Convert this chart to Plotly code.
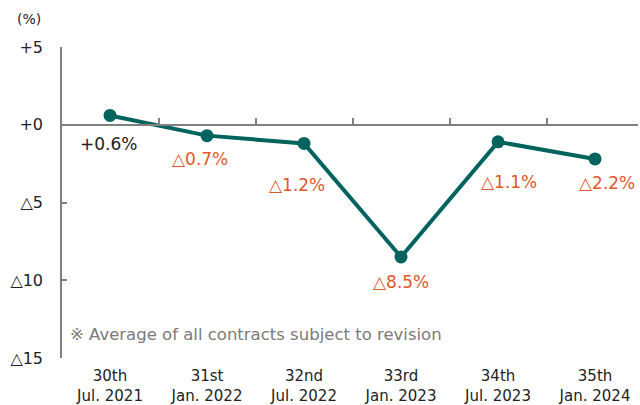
import plotly.graph_objects as go

categories = ["30th<br>Jul. 2021", "31st<br>Jan. 2022", "32nd<br>Jul. 2022",
              "33rd<br>Jan. 2023", "34th<br>Jul. 2023", "35th<br>Jan. 2024"]
values = [0.6, -0.7, -1.2, -8.5, -1.1, -2.2]
value_labels = ["+0.6%", "△0.7%", "△1.2%", "△8.5%", "△1.1%", "△2.2%"]
ytick_vals = [5, 0, -5, -10, -15]
ytick_text = ["+5", "+0", "△5", "△10", "△15"]
note = "※ Average of all contracts subject to revision"

# label offsets in pixels (style)
label_dx = [-2, -7, -7, 0, 11, 12]
label_dy = [-29, -23, -42, -25, -40, -24]

LINE = "#00635E"
ORANGE = "#E0582A"
AXIS = "#808080"
FONT = "DejaVu Sans"

xs = list(range(len(categories)))

fig = go.Figure()
fig.add_trace(go.Scatter(
    x=xs, y=values, mode="lines+markers",
    line=dict(color=LINE, width=4),
    marker=dict(color=LINE, size=13),
    hoverinfo="skip", showlegend=False,
))
# invisible trace to hold zero-line axis
fig.add_trace(go.Scatter(x=[xs[0], xs[-1]], y=[0, 0], xaxis="x2", mode="lines",
                         line=dict(width=0), hoverinfo="skip", showlegend=False))

for i, (v, t) in enumerate(zip(values, value_labels)):
    fig.add_annotation(x=xs[i], y=v, text=t, showarrow=False,
                       xshift=label_dx[i], yshift=label_dy[i],
                       font=dict(family=FONT, size=17,
                                 color="#222222" if v > 0 else ORANGE))

fig.add_annotation(xref="paper", yref="y", x=0.0104, y=-13.5, xanchor="left",
                   yanchor="middle", text=note, showarrow=False,
                   font=dict(family=FONT, size=16.5, color="#7a7a7a"))
fig.add_annotation(xref="paper", yref="paper", x=-0.057, y=1.09, text="(%)",
                   xanchor="center", yanchor="middle",
                   showarrow=False, font=dict(family=FONT, size=14, color="#222222"))

rng = [-0.495, len(categories) - 1 + 0.443]
fig.update_layout(
    width=640, height=405,
    margin=dict(l=62, r=2, t=47, b=47, autoexpand=False),
    paper_bgcolor="white", plot_bgcolor="white",
    font=dict(family=FONT, size=15, color="#222222"),
    xaxis=dict(range=rng, tickvals=xs, ticktext=categories, showline=False,
               ticks="", showgrid=False, zeroline=False, automargin=False,
               ticklabelstandoff=7,
               tickfont=dict(size=15, color="#222222")),
    xaxis2=dict(range=rng, overlaying="x", anchor="free", position=0.75,
                showline=True, linecolor=AXIS, linewidth=1.5,
                ticks="inside", ticklen=6, tickcolor=AXIS, tickwidth=1.5,
                tickvals=[x + 0.5 for x in xs[:-1]], showticklabels=False,
                showgrid=False, zeroline=False, automargin=False),
    yaxis=dict(range=[-15, 5], tickvals=ytick_vals, ticktext=ytick_text,
               showline=True, linecolor=AXIS, linewidth=1.5,
               ticks="inside", ticklen=5, tickcolor=AXIS, tickwidth=1.5,
               showgrid=False, zeroline=False, ticklabelstandoff=14,
               automargin=False,
               tickfont=dict(size=16, color="#222222")),
)

fig.write_html("out.html", config={"displayModeBar": False},
               post_script="document.body.style.margin='0';document.body.style.overflow='hidden';")
